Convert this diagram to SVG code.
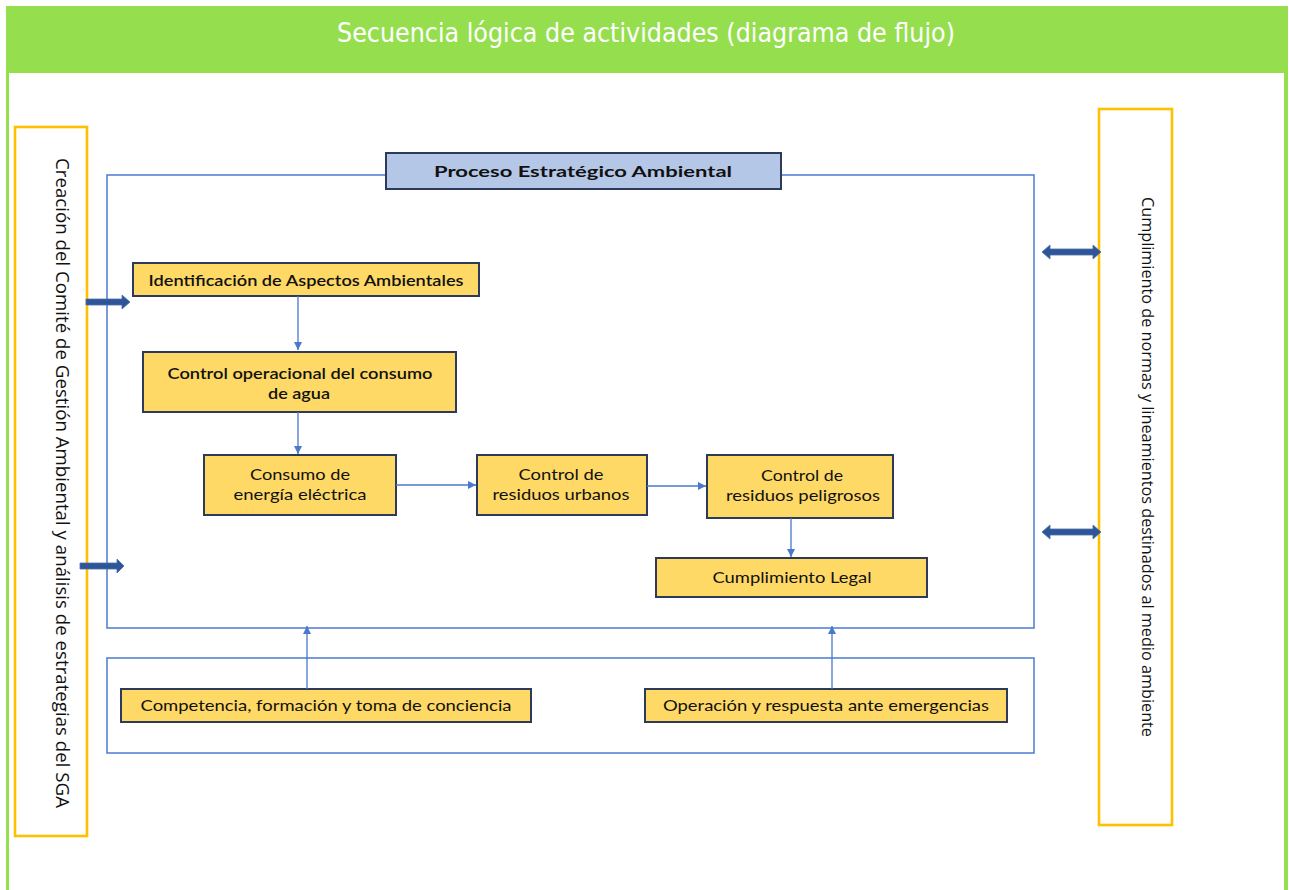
<svg xmlns="http://www.w3.org/2000/svg" width="1289" height="890" viewBox="0 0 1289 890">
<defs>
<style>
.box{fill:#FFD966;stroke:#2E3A59;stroke-width:2}
.t{font-family:Lato,"Open Sans","Liberation Sans",sans-serif;font-size:15px;fill:#111;text-anchor:middle}
.tb{font-weight:600;font-size:16px}
.frame{fill:none;stroke:#5582D2;stroke-width:1.6}
.side{fill:#fff;stroke:#FFC000;stroke-width:2.6}
.vt{font-family:"Open Sans",Lato,"Liberation Sans",sans-serif;fill:#111;text-anchor:middle}
.con{stroke:#4A78CC;stroke-width:1.3;fill:none}
.blk{fill:#2F5597;stroke:#4A6FB0;stroke-width:0.8}
</style>
<marker id="ah" viewBox="0 0 10 10" refX="10" refY="5" markerWidth="8" markerHeight="8" markerUnits="userSpaceOnUse" orient="auto">
<path d="M0,0 L10,5 L0,10 z" fill="#4A78CC"/>
</marker>
</defs>
<rect x="0" y="0" width="1289" height="890" fill="#fff"/>
<g id="page">
<rect x="6" y="6" width="1282" height="67" fill="#95DF4F"/>
<rect x="6" y="73" width="3" height="817" fill="#95DF4F"/>
<rect x="1284" y="73" width="4" height="817" fill="#95DF4F"/>
<text x="646" y="42" font-family="'DejaVu Sans Condensed','DejaVu Sans',sans-serif" font-size="26" fill="#fff" text-anchor="middle" textLength="618" lengthAdjust="spacingAndGlyphs">Secuencia lógica de actividades (diagrama de flujo)</text>
</g>
<g id="frames">
<rect class="frame" x="107" y="175" width="927" height="453"/>
<rect class="frame" x="107" y="658" width="927" height="95"/>
</g>
<g id="left-side">
<rect class="side" x="15" y="127" width="72" height="709"/>
<text class="vt" font-size="19" transform="translate(62,483) rotate(90)" x="0" y="6" textLength="650" lengthAdjust="spacingAndGlyphs">Creación del Comité de Gestión Ambiental y análisis de estrategias del SGA</text>
</g>
<g id="right-side">
<rect class="side" x="1099" y="109" width="73" height="716"/>
<text class="vt" font-size="16.5" transform="translate(1148,467) rotate(90)" x="0" y="6" textLength="540" lengthAdjust="spacingAndGlyphs">Cumplimiento de normas y lineamientos destinados al medio ambiente</text>
</g>
<g id="proceso">
<rect x="386" y="153" width="395" height="36" fill="#B4C7E7" stroke="#2E3A59" stroke-width="2"/>
<text class="t" x="583" y="177" font-weight="bold" font-size="17.5" textLength="298" lengthAdjust="spacingAndGlyphs">Proceso Estratégico Ambiental</text>
</g>
<g id="identificacion">
<rect class="box" x="133" y="263" width="346" height="33"/>
<text class="t tb" x="306" y="286" textLength="315" lengthAdjust="spacingAndGlyphs">Identificación de Aspectos Ambientales</text>
</g>
<g id="control-agua">
<rect class="box" x="143" y="352" width="313" height="60"/>
<text class="t tb" x="300" y="379" textLength="265" lengthAdjust="spacingAndGlyphs">Control operacional del consumo</text>
<text class="t tb" x="299" y="399" textLength="62" lengthAdjust="spacingAndGlyphs">de agua</text>
</g>
<g id="energia">
<rect class="box" x="204" y="455" width="192" height="60"/>
<text class="t" x="300" y="480" textLength="100" lengthAdjust="spacingAndGlyphs">Consumo de</text>
<text class="t" x="300" y="500" textLength="133" lengthAdjust="spacingAndGlyphs">energía eléctrica</text>
</g>
<g id="urbanos">
<rect class="box" x="477" y="455" width="170" height="60"/>
<text class="t" x="561" y="480" textLength="85" lengthAdjust="spacingAndGlyphs">Control de</text>
<text class="t" x="561" y="500" textLength="137" lengthAdjust="spacingAndGlyphs">residuos urbanos</text>
</g>
<g id="peligrosos">
<rect class="box" x="707" y="455" width="186" height="63"/>
<text class="t" x="802" y="481" textLength="82" lengthAdjust="spacingAndGlyphs">Control de</text>
<text class="t" x="803" y="501" textLength="154" lengthAdjust="spacingAndGlyphs">residuos peligrosos</text>
</g>
<g id="legal">
<rect class="box" x="656" y="558" width="271" height="39"/>
<text class="t" x="792" y="583" textLength="159" lengthAdjust="spacingAndGlyphs">Cumplimiento Legal</text>
</g>
<g id="competencia">
<rect class="box" x="121" y="689" width="410" height="33"/>
<text class="t" x="326" y="711" textLength="371" lengthAdjust="spacingAndGlyphs">Competencia, formación y toma de conciencia</text>
</g>
<g id="emergencias">
<rect class="box" x="645" y="689" width="362" height="33"/>
<text class="t" x="826" y="711" textLength="326" lengthAdjust="spacingAndGlyphs">Operación y respuesta ante emergencias</text>
</g>
<g id="connectors">
<line class="con" x1="298" y1="296" x2="298" y2="350" marker-end="url(#ah)"/>
<line class="con" x1="298" y1="412" x2="298" y2="454" marker-end="url(#ah)"/>
<line class="con" x1="396" y1="485" x2="476" y2="485" marker-end="url(#ah)"/>
<line class="con" x1="647" y1="486" x2="706" y2="486" marker-end="url(#ah)"/>
<line class="con" x1="791" y1="518" x2="791" y2="557" marker-end="url(#ah)"/>
<line class="con" x1="307" y1="689" x2="307" y2="626" marker-end="url(#ah)"/>
<line class="con" x1="832" y1="689" x2="832" y2="626" marker-end="url(#ah)"/>
<polygon class="blk" points="86,299 122,299 122,295 130,302 122,309 122,305 86,305"/>
<polygon class="blk" points="80,563 117,563 117,559 124,566 117,573 117,569 80,569"/>
<polygon class="blk" points="1042,252 1050,245 1050,249 1093,249 1093,245 1101,252 1093,259 1093,255 1050,255 1050,259"/>
<polygon class="blk" points="1042,532 1050,525 1050,529 1093,529 1093,525 1101,532 1093,539 1093,535 1050,535 1050,539"/>
</g>
</svg>
